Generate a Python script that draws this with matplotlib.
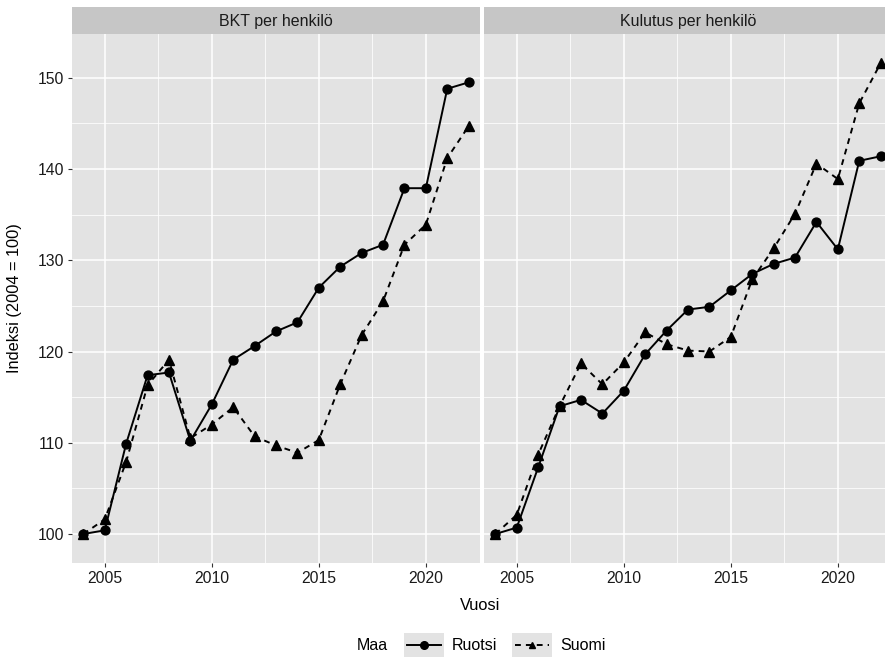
import matplotlib
matplotlib.use('Agg')
import matplotlib.pyplot as plt
from matplotlib.lines import Line2D
from matplotlib.patches import Rectangle

plt.rcParams['font.family'] = ['Liberation Sans', 'DejaVu Sans']

years = list(range(2004, 2023))
panels = ['BKT per henkilö', 'Kulutus per henkilö']
countries = ['Ruotsi', 'Suomi']

# BKT per henkilö
bkt_ruotsi = [100.0, 100.4, 109.9, 117.4, 117.7, 110.2, 114.2, 119.1, 120.6, 122.2,
              123.2, 127.0, 129.3, 130.8, 131.7, 137.9, 137.9, 148.8, 149.5]
bkt_suomi = [100.0, 101.6, 107.9, 116.3, 119.1, 110.5, 112.0, 113.9, 110.7, 109.7,
             108.9, 110.3, 116.4, 121.8, 125.5, 131.7, 133.9, 141.2, 144.7]
# Kulutus per henkilö
kul_ruotsi = [100.0, 100.7, 107.3, 114.0, 114.7, 113.2, 115.7, 119.7, 122.3, 124.6,
              124.9, 126.7, 128.5, 129.6, 130.3, 134.2, 131.2, 140.9, 141.4]
kul_suomi = [100.0, 102.1, 108.7, 114.0, 118.7, 116.4, 118.8, 122.1, 120.8, 120.1,
             120.0, 121.6, 127.9, 131.3, 135.1, 140.6, 138.9, 147.2, 151.6]

data = {
    'BKT per henkilö': {'Ruotsi': bkt_ruotsi, 'Suomi': bkt_suomi},
    'Kulutus per henkilö': {'Ruotsi': kul_ruotsi, 'Suomi': kul_suomi},
}

styles = {
    'Ruotsi': dict(linestyle='-', marker='o', markersize=6.4),
    'Suomi': dict(linestyle=(0, (3, 2.6)), marker='^', markersize=7.0),
}

W, H = 885, 668
fig = plt.figure(figsize=(W / 100, H / 100), dpi=100)

panel_bg = '#e3e3e3'
strip_bg = '#c6c6c6'
txt = '#1a1a1a'

lefts = [72, 484]
pw = 408
top, bottom = 34, 563
strip_top = 7

for i, name in enumerate(panels):
    ax = fig.add_axes([lefts[i] / W, (H - bottom) / H, pw / W, (bottom - top) / H])
    ax.set_facecolor(panel_bg)
    for s in ax.spines.values():
        s.set_visible(False)
    ax.set_xlim(2003.47, 2022.53)
    ax.set_ylim(96.82, 154.8)
    ax.set_xticks([2005, 2010, 2015, 2020])
    ax.set_xticks([2007.5, 2012.5, 2017.5], minor=True)
    ax.set_yticks([100, 110, 120, 130, 140, 150])
    ax.set_yticks([105, 115, 125, 135, 145], minor=True)
    ax.grid(which='major', color='white', linewidth=1.1)
    ax.grid(which='minor', color='white', linewidth=0.55)
    ax.set_axisbelow(True)
    ax.tick_params(which='major', direction='out', length=3, width=0.8, color='#333333',
                   labelsize=11.3, labelcolor=txt, pad=2.5)
    ax.tick_params(which='minor', length=0)
    if i == 1:
        ax.tick_params(axis='y', which='both', length=0, labelleft=False)

    for c in countries:
        ax.plot(years, data[name][c], color='black', linewidth=1.4, **styles[c])

    sax = fig.add_axes([lefts[i] / W, (H - top) / H, pw / W, (top - strip_top) / H])
    sax.set_facecolor(strip_bg)
    sax.set_xticks([])
    sax.set_yticks([])
    for s in sax.spines.values():
        s.set_visible(False)
    sax.text(0.5, 0.47, name, ha='center', va='center', fontsize=11.5, color=txt,
             transform=sax.transAxes)

# axis titles
fig.text(480 / W, 1 - 606 / H, 'Vuosi', ha='center', va='center', fontsize=11.8, color='black')
fig.text(15 / W, 1 - 298 / H, 'Indeksi (2004 = 100)', ha='center', va='center',
         rotation=90, fontsize=11.8, color='black')

# legend at the bottom
ly = 1 - 645 / H
fig.text(357 / W, ly, 'Maa', ha='left', va='center', fontsize=11.5, color='black')
keys = [(404, 'Ruotsi', 452), (512, 'Suomi', 560)]
for kx, c, tx in keys:
    fig.add_artist(Rectangle((kx / W, 1 - 657 / H), 40 / W, 24 / H,
                             transform=fig.transFigure, facecolor=panel_bg, edgecolor='none'))
    ms = 5.5 if c == 'Ruotsi' else 5.0
    st = dict(styles[c])
    st['markersize'] = ms
    fig.add_artist(Line2D([(kx + 3) / W, (kx + 37) / W, ], [ly, ly], transform=fig.transFigure,
                          color='black', linewidth=1.4, markevery=[], **st))
    fig.add_artist(Line2D([(kx + 20) / W], [ly], transform=fig.transFigure, color='black',
                          linestyle='none', marker=st['marker'], markersize=ms))
    fig.text(tx / W, ly, c, ha='left', va='center', fontsize=11.5, color='black')

fig.savefig('out.png', dpi=100)
